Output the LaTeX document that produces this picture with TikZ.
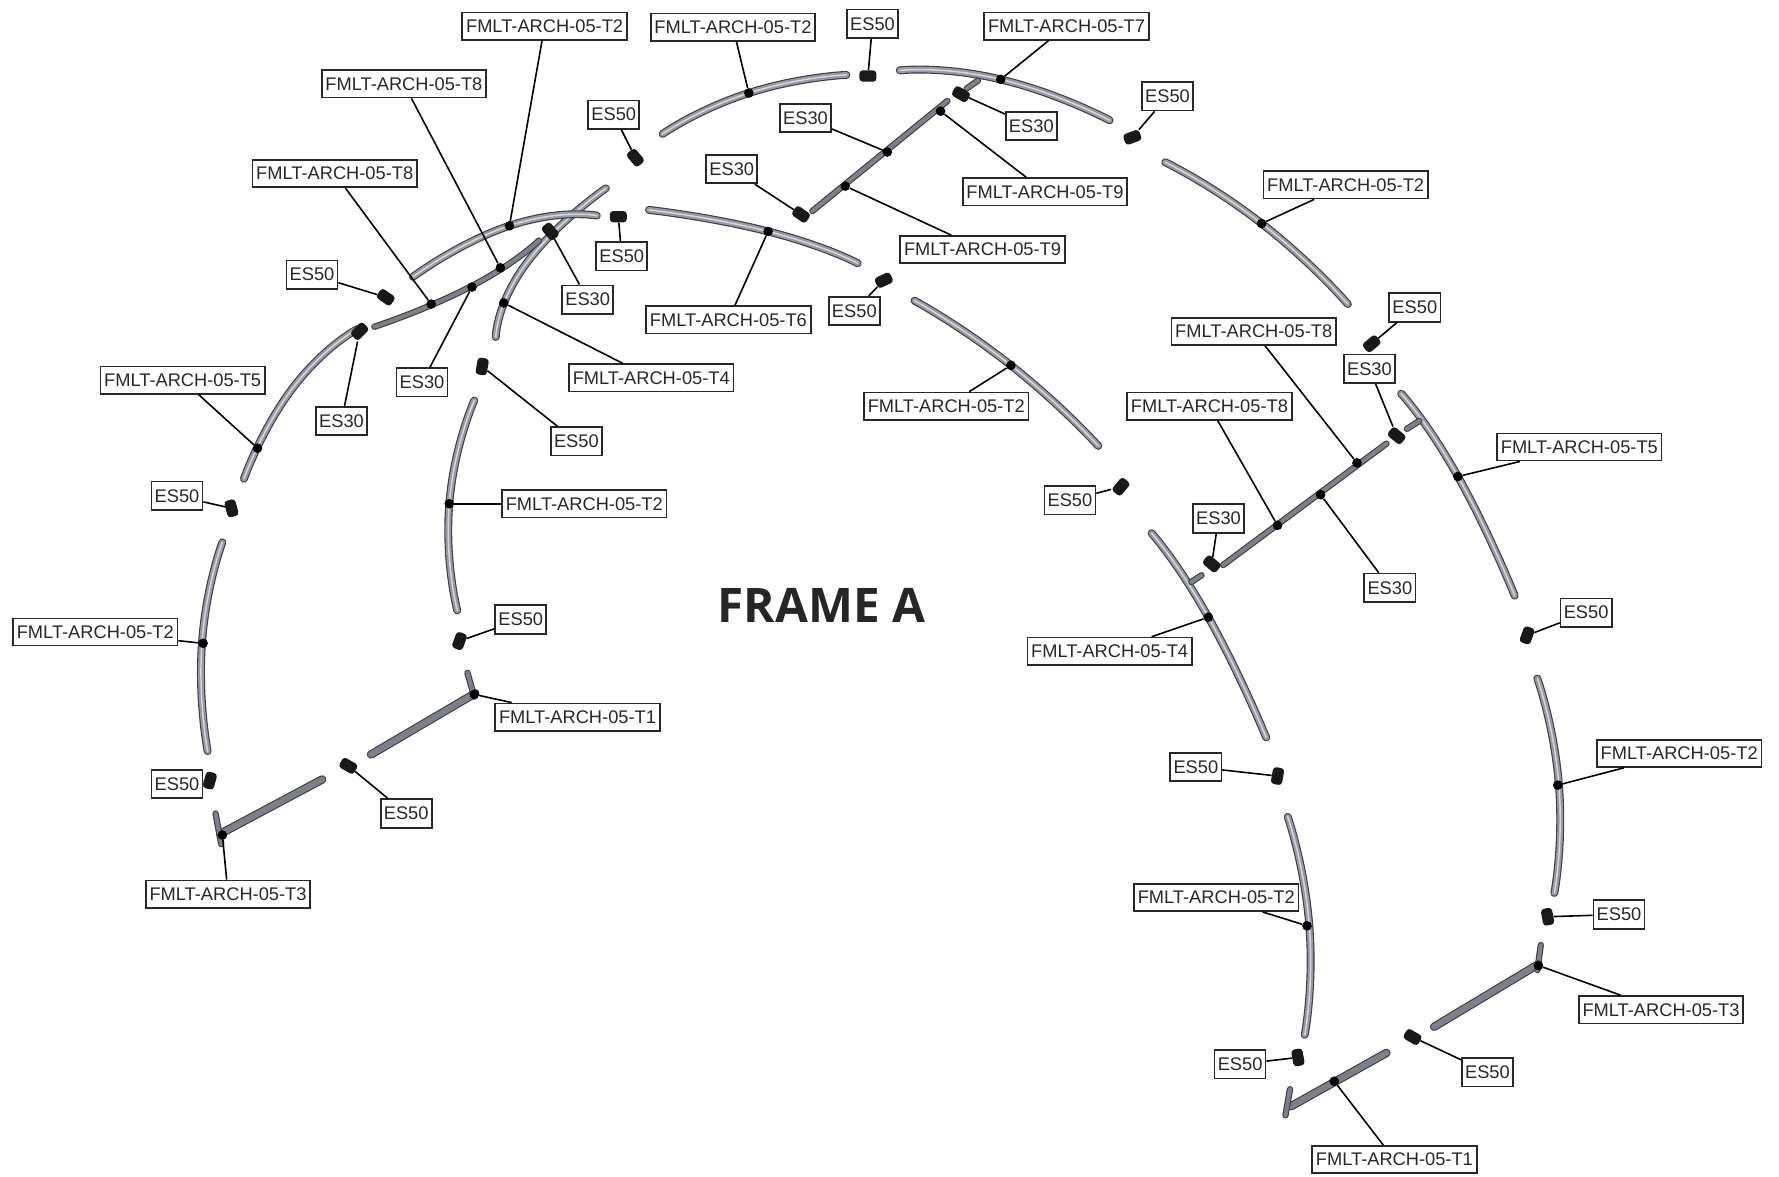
\documentclass[tikz,border=0pt]{standalone}
\usepackage{fontspec}
\setmainfont{Liberation Sans}
\newfontfamily\framefont{Open Sans}
\usetikzlibrary{positioning}
\definecolor{tubegray}{RGB}{150,152,162}
\definecolor{tubelight}{RGB}{214,216,222}
\definecolor{bargray}{RGB}{125,127,138}
\definecolor{tubeedge}{RGB}{62,62,68}
\definecolor{inkgray}{RGB}{40,40,40}

\begin{document}
\begin{tikzpicture}[
    x=1pt,
    y=-1pt,
    % node styles
    tag/.style = {
      draw=inkgray,
      fill=white,
      line width=1.5pt,
      minimum width=145pt,
      minimum height=24pt,
      inner sep=1pt,
      font=\fontsize{16.1}{17}\selectfont,
      text=inkgray
    },
    shorttag/.style = {tag, minimum width=45pt, minimum height=25pt},
    joint/.style = {circle, fill=black, minimum size=8.5pt, inner sep=0pt},
    fitting/.style = {
      rectangle,
      rounded corners=3pt,
      fill=black!90,
      minimum width=15pt,
      minimum height=10pt,
      inner sep=0pt
    },
    % line styles
    tube/.style = {
      draw=tubeedge,
      line width=1pt,
      line cap=round,
      double=tubegray,
      double distance=5pt,
      smooth,
      tension=1,
      postaction={draw=tubelight, line width=1.3pt}
    },
    bar/.style = {
      draw=tubeedge,
      line width=1pt,
      line cap=round,
      double=bargray,
      double distance=5.4pt
    },
    stub/.style = {bar, double distance=3.6pt, smooth, tension=1},
    leader/.style = {line width=1.4pt, draw=black}
  ]
  \useasboundingbox (0,0) rectangle (1568,1037);

  % --- Tubes, left frame
  \draw[tube] plot coordinates {(584,118) (660,82) (746,66)};
  \draw[tube] plot coordinates {(793,62) (882,70) (978,106)};
  \draw[tube] plot coordinates {(1027,143) (1112,197) (1188,268)};
  \draw[tube] plot coordinates {(806,265) (891,322) (968,393)};
  \draw[tube] plot coordinates {(572,185) (677,204) (756,232)};
  \draw[tube] plot coordinates {(437,297) (464,232) (534,166)};
  \draw[tube] plot coordinates {(364,244) (449,199) (526,190)};
  \draw[stub] plot coordinates {(330,288) (416,252) (475,212)};
  \draw[tube] plot coordinates {(215,422) (258,342) (315,290)};
  \draw[tube] plot coordinates {(418,353) (396,444) (403,538)};
  \draw[tube] plot coordinates {(196,478) (178,567) (183,662)};
  \draw[bar] (194,735) -- (284,687);
  \draw[stub] (190,717) -- (195,744);
  \draw[bar] (327,665) -- (419,611);
  \draw[stub] (412,593) -- (418,614);
  \draw[stub] (716,186) -- (835,89);
  \draw[stub] (862,71) -- (852,78);

  % --- Tubes, right frame
  \draw[tube] plot coordinates {(1235,347) (1285,420) (1335,525)};
  \draw[stub] (1240,378) -- (1251,371);
  \draw[stub] (1078,498) -- (1222,391);
  \draw[tube] plot coordinates {(1015,470) (1065,544) (1116,650)};
  \draw[stub] (1050,513) -- (1059,507);
  \draw[tube] plot coordinates {(1355,598) (1374,692) (1370,787)};
  \draw[tube] plot coordinates {(1135,720) (1154,816) (1150,912)};
  \draw[bar] (1264,905) -- (1354,851);
  \draw[stub] (1358,833) -- (1355,855);
  \draw[bar] (1222,928) -- (1138,975);
  \draw[stub] (1137,960) -- (1133,983);

  % --- Fittings
  \node[fitting] (fitA) at (765,67) {};
  \node[fitting, rotate=20] (fitB) at (998,121) {};
  \node[fitting, rotate=-30] (fitC) at (847,83) {};
  \node[fitting, rotate=-50] (fitD) at (560,139) {};
  \node[fitting] (fitE) at (545,191) {};
  \node[fitting, rotate=-50] (fitF) at (485,204) {};
  \node[fitting, rotate=-35] (fitG) at (340,262) {};
  \node[fitting, rotate=25] (fitH) at (779,247) {};
  \node[fitting, rotate=40] (fitI) at (1209,303) {};
  \node[fitting, rotate=-40] (fitJ) at (1231,384) {};
  \node[fitting, rotate=45] (fitK) at (317,292) {};
  \node[fitting, rotate=80] (fitL) at (425,323) {};
  \node[fitting, rotate=-75] (fitM) at (204,448) {};
  \node[fitting, rotate=50] (fitN) at (988,429) {};
  \node[fitting, rotate=-40] (fitO) at (1068,497) {};
  \node[fitting, rotate=70] (fitP) at (1346,560) {};
  \node[fitting, rotate=70] (fitQ) at (405,565) {};
  \node[fitting, rotate=80] (fitR) at (1126,684) {};
  \node[fitting, rotate=75] (fitS) at (185,688) {};
  \node[fitting, rotate=-30] (fitT) at (307,675) {};
  \node[fitting, rotate=-80] (fitU) at (1364,808) {};
  \node[fitting, rotate=-80] (fitV) at (1144,932) {};
  \node[fitting, rotate=-30] (fitW) at (1245,914) {};
  \node[fitting, rotate=-35] (fitX) at (706,189) {};

  % --- Joints
  \node[joint] (jointA) at (449,199) {};
  \node[joint] (jointB) at (660,82) {};
  \node[joint] (jointC) at (882,70) {};
  \node[joint] (jointD) at (782,134) {};
  \node[joint] (jointE) at (829,98) {};
  \node[joint] (jointF) at (441,236) {};
  \node[joint] (jointG) at (380,268) {};
  \node[joint] (jointH) at (745,164) {};
  \node[joint] (jointI) at (1112,197) {};
  \node[joint] (jointJ) at (677,204) {};
  \node[joint] (jointK) at (1196,408) {};
  \node[joint] (jointL) at (444,267) {};
  \node[joint] (jointM) at (416,253) {};
  \node[joint] (jointN) at (227,395) {};
  \node[joint] (jointO) at (891,322) {};
  \node[joint] (jointP) at (1126,463) {};
  \node[joint] (jointQ) at (1285,420) {};
  \node[joint] (jointR) at (396,444) {};
  \node[joint] (jointS) at (1164,436) {};
  \node[joint] (jointT) at (179,567) {};
  \node[joint] (jointU) at (1065,544) {};
  \node[joint] (jointV) at (418,612) {};
  \node[joint] (jointW) at (1373,692) {};
  \node[joint] (jointX) at (196,736) {};
  \node[joint] (jointY) at (1152,816) {};
  \node[joint] (jointZ) at (1356,851) {};
  \node[joint] (jointAA) at (1176,953) {};

  % --- Labels
  \node[tag] (tagA) at (480,23) {FMLT-ARCH-05-T2};
  \node[tag] (tagB) at (646,24) {FMLT-ARCH-05-T2};
  \node[shorttag] (esA) at (769,21) {ES50};
  \node[tag] (tagC) at (940,23) {FMLT-ARCH-05-T7};
  \node[shorttag] (esB) at (1029,85) {ES50};
  \node[shorttag] (esC) at (710,104) {ES30};
  \node[shorttag] (esD) at (909,111) {ES30};
  \node[tag] (tagD) at (921,169) {FMLT-ARCH-05-T9};
  \node[tag] (tagE) at (356,74) {FMLT-ARCH-05-T8};
  \node[shorttag] (esE) at (541,101) {ES50};
  \node[tag] (tagF) at (295,153) {FMLT-ARCH-05-T8};
  \node[shorttag] (esF) at (645,149) {ES30};
  \node[tag] (tagG) at (866,220) {FMLT-ARCH-05-T9};
  \node[tag] (tagH) at (1186,163) {FMLT-ARCH-05-T2};
  \node[shorttag] (esG) at (548,226) {ES50};
  \node[shorttag] (esH) at (518,264) {ES30};
  \node[shorttag] (esI) at (275,242) {ES50};
  \node[tag] (tagI) at (642,282) {FMLT-ARCH-05-T6};
  \node[shorttag] (esJ) at (753,274) {ES50};
  \node[tag] (tagJ) at (1105,292) {FMLT-ARCH-05-T8};
  \node[shorttag] (esK) at (1247,271) {ES50};
  \node[shorttag] (esL) at (1207,325) {ES30};
  \node[tag] (tagK) at (574,333) {FMLT-ARCH-05-T4};
  \node[shorttag] (esM) at (372,337) {ES30};
  \node[tag] (tagL) at (161,335) {FMLT-ARCH-05-T5};
  \node[shorttag] (esN) at (301,371) {ES30};
  \node[shorttag] (esO) at (508,389) {ES50};
  \node[tag] (tagM) at (834,358) {FMLT-ARCH-05-T2};
  \node[tag] (tagN) at (1066,358) {FMLT-ARCH-05-T8};
  \node[tag] (tagO) at (1392,394) {FMLT-ARCH-05-T5};
  \node[shorttag] (esP) at (156,437) {ES50};
  \node[shorttag] (esQ) at (943,441) {ES50};
  \node[tag] (tagP) at (515,444) {FMLT-ARCH-05-T2};
  \node[shorttag] (esR) at (1074,457) {ES30};
  \node[shorttag] (esS) at (1225,518) {ES30};
  \node[shorttag] (esT) at (1398,540) {ES50};
  \node[shorttag] (esU) at (459,546) {ES50};
  \node[tag] (tagQ) at (84,557) {FMLT-ARCH-05-T2};
  \node[tag] (tagR) at (978,574) {FMLT-ARCH-05-T4};
  \node[tag] (tagS) at (509,632) {FMLT-ARCH-05-T1};
  \node[tag] (tagT) at (1480,664) {FMLT-ARCH-05-T2};
  \node[shorttag] (esV) at (1054,676) {ES50};
  \node[shorttag] (esW) at (156,691) {ES50};
  \node[shorttag] (esX) at (358,717) {ES50};
  \node[tag] (tagU) at (201,788) {FMLT-ARCH-05-T3};
  \node[tag] (tagV) at (1072,791) {FMLT-ARCH-05-T2};
  \node[shorttag] (esY) at (1427,806) {ES50};
  \node[tag] (tagW) at (1464,890) {FMLT-ARCH-05-T3};
  \node[shorttag] (esZ) at (1093,938) {ES50};
  \node[shorttag] (esAA) at (1311,945) {ES50};
  \node[tag] (tagX) at (1229,1022) {FMLT-ARCH-05-T1};

  \node[font=\framefont\bfseries\fontsize{42}{44}\selectfont, text=black!85] (frameA) at (724,534) {FRAME A};

  % --- Leaders
  \draw[leader] (tagA) -- (jointA);
  \draw[leader] (tagB) -- (jointB);
  \draw[leader] (esA) -- (fitA);
  \draw[leader] (tagC) -- (jointC);
  \draw[leader] (esB) -- (fitB);
  \draw[leader] (esC) -- (jointD);
  \draw[leader] (esD) -- (fitC);
  \draw[leader] (tagD) -- (jointE);
  \draw[leader] (tagE) -- (jointF);
  \draw[leader] (esE) -- (fitD);
  \draw[leader] (tagF) -- (jointG);
  \draw[leader] (esF) -- (fitX);
  \draw[leader] (tagG) -- (jointH);
  \draw[leader] (tagH) -- (jointI);
  \draw[leader] (esG) -- (fitE);
  \draw[leader] (esH) -- (fitF);
  \draw[leader] (esI) -- (fitG);
  \draw[leader] (tagI) -- (jointJ);
  \draw[leader] (esJ) -- (fitH);
  \draw[leader] (tagJ) -- (jointK);
  \draw[leader] (esK) -- (fitI);
  \draw[leader] (esL) -- (fitJ);
  \draw[leader] (tagK) -- (jointL);
  \draw[leader] (esM) -- (jointM);
  \draw[leader] (tagL) -- (jointN);
  \draw[leader] (esN) -- (fitK);
  \draw[leader] (esO) -- (fitL);
  \draw[leader] (tagM) -- (jointO);
  \draw[leader] (tagN) -- (jointP);
  \draw[leader] (tagO) -- (jointQ);
  \draw[leader] (esP) -- (fitM);
  \draw[leader] (esQ) -- (fitN);
  \draw[leader] (tagP) -- (jointR);
  \draw[leader] (esR) -- (fitO);
  \draw[leader] (esS) -- (jointS);
  \draw[leader] (esT) -- (fitP);
  \draw[leader] (esU) -- (fitQ);
  \draw[leader] (tagQ) -- (jointT);
  \draw[leader] (tagR) -- (jointU);
  \draw[leader] (tagS) -- (jointV);
  \draw[leader] (tagT) -- (jointW);
  \draw[leader] (esV) -- (fitR);
  \draw[leader] (esW) -- (fitS);
  \draw[leader] (esX) -- (fitT);
  \draw[leader] (tagU) -- (jointX);
  \draw[leader] (tagV) -- (jointY);
  \draw[leader] (esY) -- (fitU);
  \draw[leader] (tagW) -- (jointZ);
  \draw[leader] (esZ) -- (fitV);
  \draw[leader] (esAA) -- (fitW);
  \draw[leader] (tagX) -- (jointAA);

\end{tikzpicture}
\end{document}
